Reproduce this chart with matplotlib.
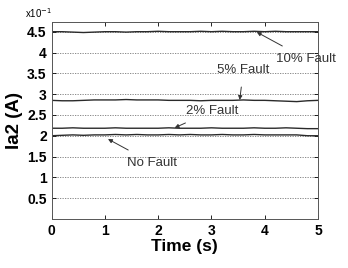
import numpy as np
import matplotlib.pyplot as plt

plt.rcParams['font.family'] = ['Liberation Sans', 'DejaVu Sans']

# 负序电流 Ia2 (x10^-1 A)
t = np.linspace(0, 5, 26)
fault10 = [4.50, 4.50, 4.49, 4.48, 4.49, 4.50, 4.50, 4.49, 4.50, 4.50, 4.51, 4.50, 4.50,
           4.50, 4.51, 4.50, 4.51, 4.50, 4.50, 4.51, 4.50, 4.51, 4.50, 4.50, 4.50, 4.50]
fault5 = [2.85, 2.84, 2.84, 2.85, 2.86, 2.86, 2.86, 2.87, 2.86, 2.86, 2.86, 2.85, 2.85,
          2.85, 2.84, 2.85, 2.85, 2.85, 2.86, 2.85, 2.85, 2.84, 2.83, 2.82, 2.84, 2.85]
fault2 = [2.18, 2.18, 2.19, 2.18, 2.18, 2.18, 2.19, 2.18, 2.18, 2.18, 2.18, 2.19, 2.18,
          2.18, 2.18, 2.19, 2.18, 2.18, 2.18, 2.19, 2.18, 2.18, 2.19, 2.18, 2.17, 2.17]
nofault = [2.00, 2.01, 2.02, 2.01, 2.02, 2.02, 2.03, 2.02, 2.03, 2.02, 2.02, 2.03, 2.02,
           2.03, 2.02, 2.02, 2.03, 2.02, 2.02, 2.03, 2.02, 2.02, 2.02, 2.02, 2.00, 2.00]

labels = ['10% Fault', '5% Fault', '2% Fault', 'No Fault']
tips = [(3.85, 4.49), (3.53, 2.86), (2.31, 2.19), (1.06, 1.92)]
texts = [(4.77, 3.85), (3.6, 3.58), (3.02, 2.6), (1.88, 1.35)]

fig = plt.figure(figsize=(3.48, 2.68), dpi=100)
ax = fig.add_axes([0.148, 0.183, 0.766, 0.736])

for y in [fault10, fault5, fault2, nofault]:
    ax.plot(t, y, color='#2a2a2a', lw=1.0)

for lab, tip, txt in zip(labels, tips, texts):
    ax.annotate(lab, xy=tip, xytext=txt, ha='center', va='center',
                fontsize=9.5, color='#333333',
                arrowprops=dict(arrowstyle='-|>', color='#333333', lw=0.7,
                                mutation_scale=6, shrinkA=6, shrinkB=0),
                annotation_clip=False)

ax.set_xlim(0, 5)
ax.set_ylim(0, 4.74)
ax.set_xticks([0, 1, 2, 3, 4, 5])
ax.set_yticks([0.5, 1, 1.5, 2, 2.5, 3, 3.5, 4, 4.5])
ax.set_yticklabels(['0.5', '1', '1.5', '2', '2.5', '3', '3.5', '4', '4.5'])
ax.yaxis.grid(True, linestyle=(0, (1.5, 1.5)), color='#777777', lw=0.6)
ax.tick_params(direction='in', top=True, right=True, length=3, width=0.6, labelsize=10)
for lb in ax.get_xticklabels() + ax.get_yticklabels():
    lb.set_fontweight('bold')
for s in ax.spines.values():
    s.set_linewidth(0.7)
    s.set_color('#555555')

ax.set_xlabel('Time (s)', fontsize=12.5, fontweight='bold', labelpad=1)
ax.set_ylabel('Ia2 (A)', fontsize=13.5, fontweight='bold', labelpad=3)
ax.text(-0.1, 1.01, 'x10$^{-1}$', transform=ax.transAxes, fontsize=7, ha='left', va='bottom')

plt.savefig('out.png', dpi=100)
